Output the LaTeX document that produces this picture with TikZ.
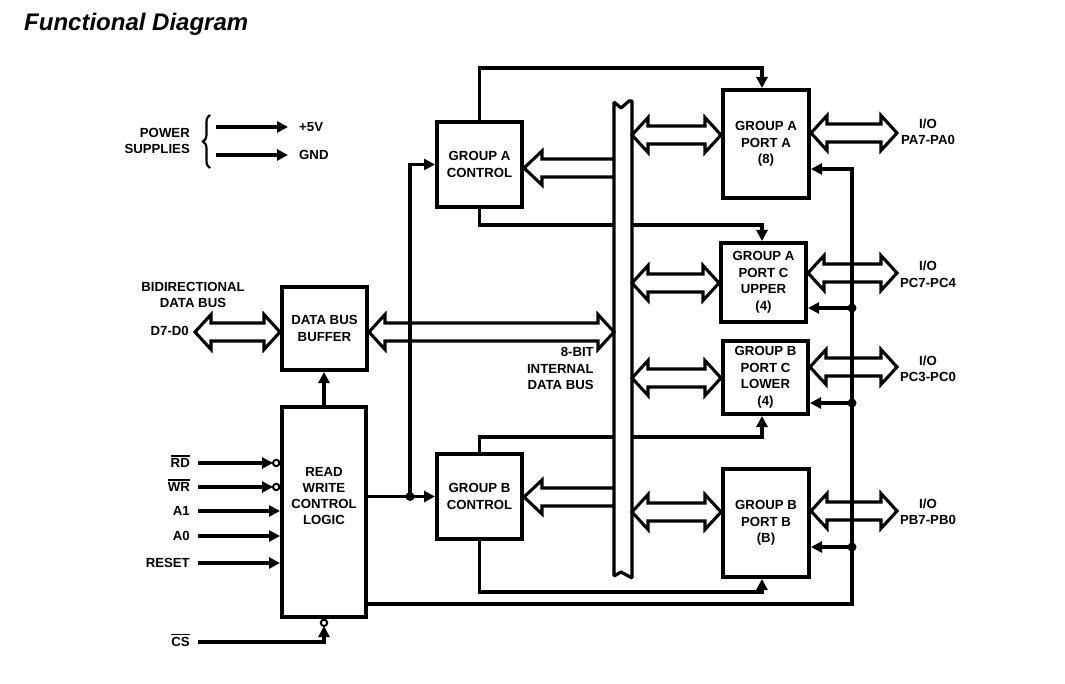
\documentclass[tikz,border=0pt]{standalone}
\usepackage{fontspec}
\setmainfont{Liberation Sans}
\usetikzlibrary{arrows.meta,calc,decorations.pathreplacing}
\newcommand\lab{\fontsize{13.2}{16.5}\selectfont\bfseries}
\newcommand\ovl[1]{\setbox0\hbox{#1}\rlap{\raisebox{\dimexpr\ht0+2pt\relax}{\rule{\wd0}{1.5pt}}}\box0}
% double-headed hollow arrow: #1 left end, #2 right end, #3 y (px)
\newcommand\hollowdbl[3]{%
  \draw[hollow] let \p1=#1, \p2=#2, \p3=(0,#3) in
   (\x1,\y3) -- (\x1+16pt,\y3+17.5pt) -- (\x1+16pt,\y3+9pt) -- (\x2-16pt,\y3+9pt)
   -- (\x2-16pt,\y3+17.5pt) -- (\x2,\y3) -- (\x2-16pt,\y3-17.5pt) -- (\x2-16pt,\y3-9pt)
   -- (\x1+16pt,\y3-9pt) -- (\x1+16pt,\y3-17.5pt) -- cycle;}
% single hollow arrow pointing left: #1 tip, #2 tail, #3 y (px)
\newcommand\hollowleft[3]{%
  \draw[hollow] let \p1=#1, \p2=#2, \p3=(0,#3) in
   (\x2,\y3+9pt) -- (\x1+18pt,\y3+9pt) -- (\x1+18pt,\y3+17pt) -- (\x1,\y3)
   -- (\x1+18pt,\y3-17pt) -- (\x1+18pt,\y3-9pt) -- (\x2,\y3-9pt);}
\tikzset{
  box/.style={draw, line width=4pt, inner sep=0pt, align=center, font=\lab},
  lbl/.style={inner sep=0pt, font=\lab, align=center},
  sig/.style={lbl, anchor=east, text height=9.4pt, text depth=0pt},
  wire/.style={line width=3.2pt},
  arr/.style={wire, -{Triangle[length=11pt,width=11pt]}},
  hollow/.style={line width=3.1pt, line join=miter},
  dot/.style={fill, circle, inner sep=0pt, minimum size=9pt},
  bubble/.style={line width=2pt},
}
\begin{document}
\begin{tikzpicture}[x=1pt,y=-1pt]
\useasboundingbox (0,0) rectangle (1065,684);

% title
\node[anchor=west, inner sep=0pt, font=\fontsize{24}{28}\selectfont\bfseries\itshape] (title) at (24,24) {Functional Diagram};

% blocks
\node[box, minimum width=85pt, minimum height=85pt] (gac) at (479.5,164.5) {GROUP A\\CONTROL};
\node[box, minimum width=85pt, minimum height=85pt] (gbc) at (479.5,496.5) {GROUP B\\CONTROL};
\node[box, minimum width=85pt, minimum height=83pt] (dbb) at (324.5,328.5) {DATA BUS\\BUFFER};
\node[box, minimum width=84pt, minimum height=210pt] (rw) at (324,512) {};
\node[lbl, font=\fontsize{13.2}{15.7}\selectfont\bfseries] (rwt) at (324,496) {READ\\WRITE\\CONTROL\\LOGIC};
\node[box, minimum width=86pt, minimum height=108pt] (pa) at (766,144) {GROUP A\\PORT A\\(8)};
\node[box, minimum width=85pt, minimum height=79pt] (pcu) at (763.5,282.5) {GROUP A\\PORT C\\UPPER\\(4)};
\node[box, minimum width=85pt, minimum height=73pt] (pcl) at (765.5,377.5) {GROUP B\\PORT C\\LOWER\\(4)};
\node[box, minimum width=86pt, minimum height=108pt] (pb) at (766,523) {GROUP B\\PORT B\\(B)};

% helper coordinates
\coordinate (hA) at (0,68);
\coordinate (hB) at (0,225);
\coordinate (hC) at (0,437);
\coordinate (hD) at (0,592);
\coordinate (hE) at (0,604);
\coordinate (hF) at (0,169);
\coordinate (xv) at (762,0);
\coordinate (xj) at (410,0);
\coordinate (vR) at (852,0);
\coordinate (busL) at (614,0);
\coordinate (busR) at (632,0);

% control lines crossing the internal bus (drawn before the bus)
\draw[arr] (gac.south) -- (gac.south |- hB) -| (pcu.north -| xv);
\draw[arr] (gbc.north) -- (gbc.north |- hC) -| (pcl.south -| xv);

% internal data bus
\draw[line width=3.2pt, fill=white, line join=bevel]
  (614,102) -- (621,108) -- (629,101) -- (632,101) -- (632,578) -- (621,572) -- (614,576) -- cycle;

% other control lines
\draw[arr] (gac.north) -- (gac.north |- hA) -| (pa.north -| xv);
\draw[arr] (gbc.south) -- (gbc.south |- hD) -| (pb.south -| xv);
\draw[arr] (rw.east |- gbc.west) -- (gbc.west);
\draw[arr] (xj |- gbc.west) |- (gac.west);
\node[dot] (j1) at (xj |- gbc.west) {};
\draw[arr] (rw.north) -- (rw.north |- dbb.south);
\draw[arr] (rw.east |- hE) -- (vR |- hE) -- (vR |- hF) -- (pa.east |- hF);
\node[dot] (dpcu) at (852,308) {};
\node[dot] (dpcl) at (852,403) {};
\node[dot] (dpb) at (852,547) {};
\draw[arr] (dpcu.center) -- (pcu.east |- dpcu.center);
\draw[arr] (dpcl.center) -- (pcl.east |- dpcl.center);
\draw[arr] (dpb.center) -- (pb.east |- dpb.center);

% power supplies
\node[lbl, align=right, anchor=east] (pwr) at (190,141) {POWER\\SUPPLIES};
\draw[decorate, decoration={brace, amplitude=7pt}, line width=2.2pt] (210,168) -- (210,115);
\node[sig, anchor=west] (v5) at (299,127) {+5V};
\node[sig, anchor=west] (gnd) at (299,155) {GND};
\coordinate (p1) at (216,127);
\coordinate (p2) at (216,155);
\draw[arr] (p1) -- ([xshift=-11pt]v5.west);
\draw[arr] (p2) -- ([xshift=-11pt]gnd.west);

% bidirectional data bus
\node[lbl] (bidi) at (193,295) {BIDIRECTIONAL\\DATA BUS};
\node[sig] (d70) at (189,331) {D7-D0};
\coordinate (dleft) at (195,332);
\hollowdbl{(dleft)}{(dbb.west)}{332}
\hollowdbl{(dbb.east)}{(busL)}{332}
\node[lbl, align=right, anchor=east] (ibus) at (594,368.5) {8-BIT\\INTERNAL\\DATA BUS};

% bus to controls
\hollowleft{(gac.east)}{(busL)}{168}
\hollowleft{(gbc.east)}{(busL)}{497}

% bus to ports
\hollowdbl{(busR)}{(pa.west)}{135}
\hollowdbl{(busR)}{(pcu.west)}{283}
\hollowdbl{(busR)}{(pcl.west)}{378}
\hollowdbl{(busR)}{(pb.west)}{512}

% ports to outside
\coordinate (ea) at (897,133);
\coordinate (ec) at (897,273);
\coordinate (ed) at (897,367);
\coordinate (eb) at (897,511);
\hollowdbl{(pa.east)}{(ea)}{133}
\hollowdbl{(pcu.east)}{(ec)}{273}
\hollowdbl{(pcl.east)}{(ed)}{367}
\hollowdbl{(pb.east)}{(eb)}{511}
\node[lbl] (ioa) at (928,132) {I/O\\PA7-PA0};
\node[lbl] (ioc) at (928,274.5) {I/O\\PC7-PC4};
\node[lbl] (iod) at (928,369) {I/O\\PC3-PC0};
\node[lbl] (iob) at (928,512) {I/O\\PB7-PB0};

% control inputs
\node[sig] (rd) at (190,463) {\ovl{RD}};
\node[sig] (wr) at (190,487) {\ovl{WR}};
\node[sig] (a1) at (190,511) {A1};
\node[sig] (a0) at (190,536) {A0};
\node[sig] (rst) at (190,563) {RESET};
\node[sig] (cs) at (190,642) {\ovl{CS}};
\draw[arr] ([xshift=8pt]rd.east) -- ([xshift=-7pt]rw.west |- rd.east);
\draw[bubble] ([xshift=-3.8pt]rw.west |- rd.east) circle (3.2pt);
\draw[arr] ([xshift=8pt]wr.east) -- ([xshift=-7pt]rw.west |- wr.east);
\draw[bubble] ([xshift=-3.8pt]rw.west |- wr.east) circle (3.2pt);
\draw[arr] ([xshift=8pt]a1.east) -- (rw.west |- a1.east);
\draw[arr] ([xshift=8pt]a0.east) -- (rw.west |- a0.east);
\draw[arr] ([xshift=8pt]rst.east) -- (rw.west |- rst.east);
\draw[arr] ([xshift=8pt]cs.east) -| ([yshift=-7pt]rw.south);
\draw[bubble] ([yshift=-3.8pt]rw.south) circle (3.2pt);
\end{tikzpicture}
\end{document}
